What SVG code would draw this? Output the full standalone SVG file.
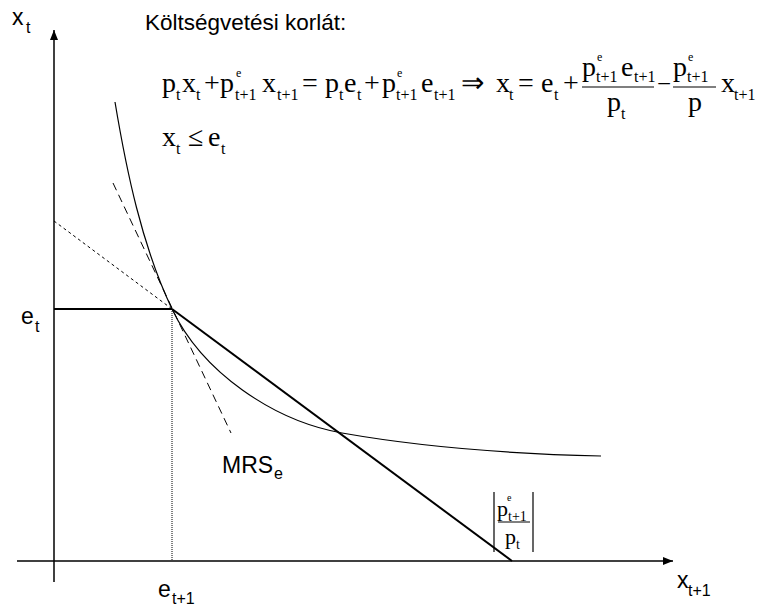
<svg xmlns="http://www.w3.org/2000/svg" width="757" height="606" viewBox="0 0 757 606">
<defs>
<marker id="arr" viewBox="0 0 10 8" refX="10" refY="4" markerWidth="10" markerHeight="8" markerUnits="userSpaceOnUse" orient="auto">
<path d="M0,0 L10,4 L0,8 z" fill="#000"/>
</marker>
<style>
.lab{font-family:"Liberation Sans",Arial,sans-serif;font-size:23px;fill:#000}
.sub{font-family:"Liberation Sans",Arial,sans-serif;font-size:16px;fill:#000}
.ttl{font-family:"Liberation Sans",Arial,sans-serif;font-size:22.5px;fill:#000}
.m{font-family:"Liberation Serif","Times New Roman",serif;font-size:28px;fill:#000}
.ms{font-family:"Liberation Serif","Times New Roman",serif;font-size:16px;fill:#000}
.mu{font-family:"Liberation Serif","Times New Roman",serif;font-size:12px;fill:#000}
.sm{font-family:"Liberation Serif","Times New Roman",serif;font-size:22px;fill:#000}
.sms{font-family:"Liberation Serif","Times New Roman",serif;font-size:14px;fill:#000}
.smu{font-family:"Liberation Serif","Times New Roman",serif;font-size:10px;fill:#000}
.ln{fill:none;stroke:#000}
</style>
</defs>
<rect width="757" height="606" fill="#fff"/>
<g id="axes">
<line class="ln" x1="54" y1="582" x2="54" y2="30" stroke-width="1.5" marker-end="url(#arr)"/>
<line class="ln" x1="17" y1="561" x2="673" y2="561" stroke-width="1.5" marker-end="url(#arr)"/>
</g>
<g id="connectors">
<line class="ln" x1="54" y1="309" x2="172" y2="309" stroke-width="1.8"/>
<line class="ln" x1="172" y1="309" x2="512" y2="561" stroke-width="2"/>
<line class="ln" x1="172" y1="309" x2="172" y2="561" stroke="#666" stroke-width="1" stroke-dasharray="1,1"/>
<line class="ln" x1="54" y1="221" x2="172" y2="309" stroke-width="1" stroke-dasharray="3,3"/>
<line class="ln" x1="113" y1="183" x2="231" y2="433" stroke-width="1" stroke-dasharray="8,5"/>
<path id="indifference" class="ln" stroke-width="1.2" d="M115,102 C126.5,171 142,246 172,309 C202,372 273,420.6 342,433 C427,448 514,454 601,456"/>
</g>
<g id="label-xt"><text class="lab" x="12" y="25">x</text><text class="sub" x="26" y="33">t</text></g>
<g id="label-et"><text class="lab" x="21" y="324">e</text><text class="sub" x="35" y="332">t</text></g>
<g id="label-et1"><text class="lab" x="158" y="597">e</text><text class="sub" x="172" y="604">t+1</text></g>
<g id="label-xt1"><text class="lab" x="677" y="588">x</text><text class="sub" x="688" y="596">t+1</text></g>
<g id="label-mrs"><text class="lab" x="222" y="473">MRS</text><text class="sub" x="274" y="479">e</text></g>
<g id="title"><text class="ttl" x="145" y="30">Költségvetési korlát:</text></g>
<g id="equation">
<text class="m" x="162" y="92">p</text><text class="ms" x="176" y="100">t</text>
<text class="m" x="182" y="92">x</text><text class="ms" x="196" y="100">t</text>
<text class="m" x="204" y="92">+</text>
<text class="m" x="220" y="92">p</text><text class="mu" x="236" y="77">e</text><text class="ms" x="235" y="100">t+1</text>
<text class="m" x="262" y="92">x</text><text class="ms" x="277" y="100">t+1</text>
<text class="m" x="302" y="92">=</text>
<text class="m" x="325" y="92">p</text><text class="ms" x="339" y="100">t</text>
<text class="m" x="344" y="92">e</text><text class="ms" x="357" y="100">t</text>
<text class="m" x="364" y="92">+</text>
<text class="m" x="382" y="92">p</text><text class="mu" x="397" y="77">e</text><text class="ms" x="396" y="100">t+1</text>
<text class="m" x="421" y="92">e</text><text class="ms" x="434" y="100">t+1</text>
<text class="m" x="461" y="92">⇒</text>
<text class="m" x="496" y="92">x</text><text class="ms" x="509" y="100">t</text>
<text class="m" x="518" y="92">=</text>
<text class="m" x="541" y="92">e</text><text class="ms" x="554" y="100">t</text>
<text class="m" x="563" y="92">+</text>
<text class="m" x="582" y="76">p</text><text class="mu" x="597" y="61">e</text><text class="ms" x="596" y="82">t+1</text>
<text class="m" x="621" y="76">e</text><text class="ms" x="634" y="82">t+1</text>
<line class="ln" x1="582" y1="87" x2="654" y2="87" stroke-width="1.2"/>
<text class="m" x="607" y="111">p</text><text class="ms" x="621" y="119">t</text>
<text class="m" x="657" y="92" style="font-size:25px">−</text>
<text class="m" x="673" y="76">p</text><text class="mu" x="688" y="61">e</text><text class="ms" x="687" y="82">t+1</text>
<line class="ln" x1="673" y1="87" x2="716" y2="87" stroke-width="1.2"/>
<text class="m" x="688" y="111">p</text>
<text class="m" x="721" y="92">x</text><text class="ms" x="734" y="100">t+1</text>
</g>
<g id="constraint">
<text class="m" x="162" y="146">x</text><text class="ms" x="176" y="154">t</text>
<text class="m" x="188" y="146">≤</text>
<text class="m" x="208" y="146">e</text><text class="ms" x="221" y="154">t</text>
</g>
<g id="slope-label">
<line class="ln" x1="494" y1="492" x2="494" y2="552" stroke-width="1.2"/>
<line class="ln" x1="533" y1="492" x2="533" y2="552" stroke-width="1.2"/>
<text class="sm" x="497" y="516">p</text><text class="smu" x="507" y="501">e</text><text class="sms" x="508" y="521">t+1</text>
<line class="ln" x1="498" y1="522" x2="530" y2="522" stroke-width="1"/>
<text class="sm" x="505" y="544">p</text><text class="sms" x="516" y="549">t</text>
</g>
</svg>
